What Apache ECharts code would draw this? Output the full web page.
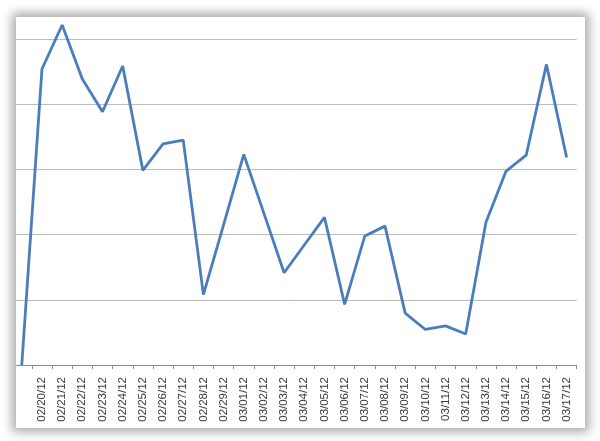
<!doctype html>
<html>
<head>
<meta charset="utf-8">
<script src="https://cdn.jsdelivr.net/npm/echarts@6/dist/echarts.min.js"></script>
<style>
  html,body{margin:0;padding:0;background:#fff;width:600px;height:441px;overflow:hidden}
  #panel{position:absolute;left:16px;top:17px;width:569px;height:411px;background:#fff;overflow:hidden;
    box-shadow:0 0 10px 4px rgba(0,0,0,0.34)}
  #chart{position:absolute;left:-16px;top:-17px;width:600px;height:441px}
</style>
</head>
<body>
<div id="panel"><div id="chart"></div></div>
<script>
// first category is blank in the source sheet (value 0)
const days = ['',
  '02/20/12','02/21/12','02/22/12','02/23/12','02/24/12','02/25/12','02/26/12','02/27/12','02/28/12','02/29/12',
  '03/01/12','03/02/12','03/03/12','03/04/12','03/05/12','03/06/12','03/07/12','03/08/12','03/09/12','03/10/12',
  '03/11/12','03/12/12','03/13/12','03/14/12','03/15/12','03/16/12','03/17/12'];
const values = [0,
  90.8, 104.3, 87.7, 77.7, 91.7, 59.7, 67.8, 69.0, 21.6, 43.0,
  64.6, 46.5, 28.3, 36.8, 45.3, 18.6, 39.6, 42.6, 15.9, 10.9,
  12.0, 9.5, 43.7, 59.5, 64.4, 92.2, 63.7];

const chart = echarts.init(document.getElementById('chart'), null, { renderer: 'canvas' });
chart.setOption({
  animation: false,
  backgroundColor: 'transparent',
  grid: { left: 11.7, right: 23.3, top: 39, bottom: 76 },
  xAxis: {
    type: 'category', data: days, boundaryGap: true,
    axisLine: { lineStyle: { color: '#8c8c8c', width: 1 } },
    axisTick: { show: true, length: 4, lineStyle: { color: '#8c8c8c' } },
    axisLabel: { interval: 0, rotate: 90, margin: 12, color: '#3a3a3a', fontSize: 11.5, fontFamily: '"Liberation Sans", sans-serif' }
  },
  yAxis: {
    type: 'value', min: 0, max: 100, interval: 20,
    axisLabel: { show: false }, axisLine: { show: false }, axisTick: { show: false },
    splitLine: { lineStyle: { color: '#bcbcbc', width: 1 } }
  },
  series: [{
    type: 'line', data: values, symbol: 'none', clip: false,
    lineStyle: { color: '#4a7ebb', width: 2.8 }
  }]
});
</script>
</body>
</html>
